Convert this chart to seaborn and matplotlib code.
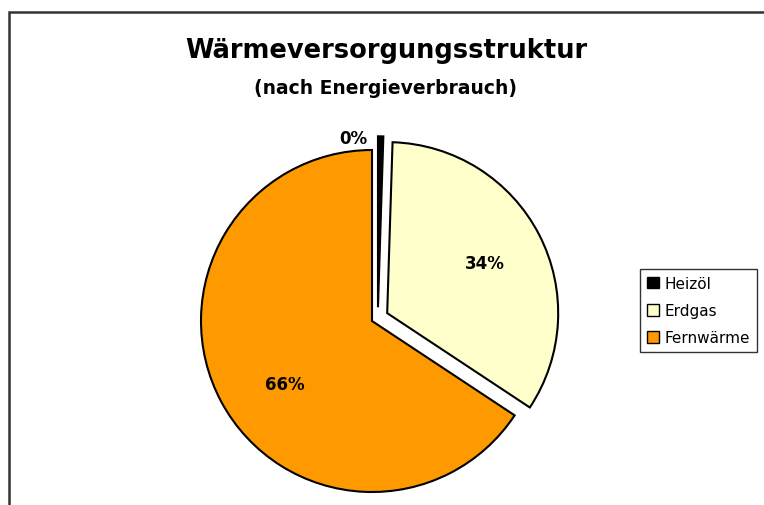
import matplotlib
matplotlib.use("Agg")
import matplotlib.pyplot as plt
import matplotlib.patches as mpatches
import numpy as np
import seaborn as sns

# Daten
kategorien = ["Heizöl", "Erdgas", "Fernwärme"]
anteile = [0.5, 33.8, 65.7]
farben = ["#000000", "#FFFFCC", "#FF9900"]
explode = [0.1, 0.1, 0.0]

sns.set_theme(style="white")
plt.rcParams["font.family"] = ["DejaVu Sans"]
plt.rcParams["text.color"] = "black"

W, H = 764, 506
fig = plt.figure(figsize=(W / 100, H / 100), dpi=100)

# Achse so setzen, dass Kreismittelpunkt bei (372, 322) px, Radius 171 px
R = 171
cx, cy = 372, 322
size = 420
ax = fig.add_axes([(cx - size / 2) / W, (H - cy - size / 2) / H, size / W, size / H])
lim = (size / 2) / R

wedges, texts, autotexts = ax.pie(
    anteile,
    colors=farben,
    explode=explode,
    startangle=90,
    counterclock=False,
    autopct="%.0f%%",
    pctdistance=0.64,
    wedgeprops={"edgecolor": "black", "linewidth": 1.5},
    textprops={"fontsize": 12, "fontweight": "bold", "color": "black"},
)
ax.set_xlim(-lim, lim)
ax.set_ylim(-lim, lim)
ax.set_aspect("equal")
ax.axis("off")

# Heizöl etwas nach rechts versetzt wie im Original
wedges[0].set_center((0.035, 0.08))

# Beschriftungen wie im Original platziert
autotexts[0].set_position((-0.11, 1.07))
autotexts[2].set_position((-0.51, -0.37))

# Titel
fig.text(0.505, 0.9, "Wärmeversorgungsstruktur", ha="center", va="center",
         fontsize=18.5, fontweight="bold", color="black")
fig.text(0.505, 0.826, "(nach Energieverbrauch)", ha="center", va="center",
         fontsize=13.5, fontweight="bold", color="black")

# Legende
handles = [mpatches.Patch(facecolor=c, edgecolor="black", linewidth=1) for c in farben]
leg = fig.legend(handles, kategorien, loc="upper left",
                 bbox_to_anchor=(640 / W, 1 - 270 / H),
                 fontsize=11, frameon=True, fancybox=False,
                 edgecolor="black", handlelength=0.8, handleheight=0.8,
                 handletextpad=0.35, borderpad=0.45, labelspacing=0.8,
                 borderaxespad=0)
leg.get_frame().set_linewidth(1)
for t in leg.get_texts():
    t.set_color("black")

# Rahmen (oben und links sichtbar)
fig.patches.append(mpatches.Rectangle((8.5 / W, -0.2), 2, 1.2 - 12.5 / H,
                                      transform=fig.transFigure, fill=False,
                                      edgecolor="#333333", linewidth=1.8))

fig.savefig("out.png", dpi=100)
